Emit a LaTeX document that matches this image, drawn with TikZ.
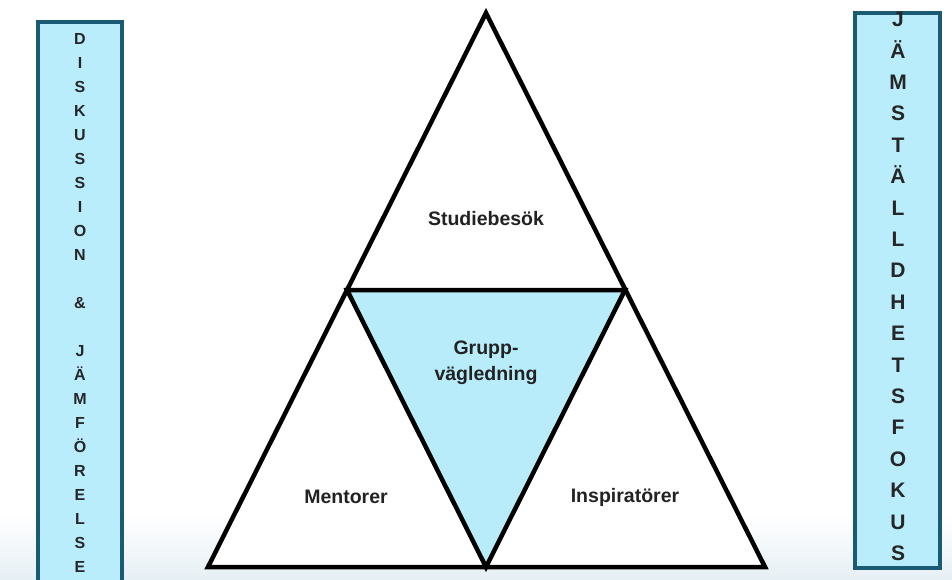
\documentclass[tikz,border=0pt]{standalone}
\usepackage{fontspec}
\setmainfont{Liberation Sans}
\begin{document}
\begin{tikzpicture}[x=1pt,y=-1pt,
  tri/.style={draw=black,line width=4.5pt,line join=miter},
  sidebox/.style={draw=boxedge,fill=boxfill,line width=4pt},
  lbl/.style={font=\bfseries\fontsize{19.5}{24}\selectfont,text=txtgray,align=center,inner sep=0pt},
  lettersL/.style={font=\bfseries\fontsize{16}{24}\selectfont,align=center,inner sep=0pt,text=black!85},
  lettersR/.style={font=\bfseries\fontsize{21}{31.4}\selectfont,align=center,inner sep=0pt,text=black!85}]
\definecolor{boxedge}{HTML}{1B5A73}
\definecolor{boxfill}{HTML}{B9EDFB}
\definecolor{trifill}{HTML}{B8ECFA}
\definecolor{txtgray}{HTML}{222222}
\definecolor{bgbottom}{HTML}{E6EFF4}
\useasboundingbox (0,0) rectangle (952,579);
\fill[white] (0,0) rectangle (952,579);
\shade[top color=white,bottom color=bgbottom] (0,515) rectangle (952,579);
% side boxes
\draw[sidebox] (38,22) rectangle (122,595);
\draw[sidebox] (855,13) rectangle (940,568);
% triangles
\coordinate (A) at (486,13);
\coordinate (B) at (208,567);
\coordinate (C) at (765,567);
\coordinate (L) at (347,290);
\coordinate (R) at (625,290);
\coordinate (M) at (486,567);
\fill[white] (A) -- (B) -- (C) -- cycle;
\fill[trifill] (L) -- (R) -- (M) -- cycle;
\draw[tri] (A) -- (B) -- (C) -- cycle;
\draw[tri] (L) -- (R) -- (M) -- cycle;
% labels
\node[lbl] (stud) at (486,219) {Studiebesök};
\node[lbl] (grupp) at (486,363) {Grupp-\\[2pt]vägledning};
\node[lbl] (ment) at (346,497) {Mentorer};
\node[lbl] (insp) at (625,497) {Inspiratörer};
% vertical texts
\node[lettersL,anchor=north] (ltext) at (80,33) {D\\I\\S\\K\\U\\S\\S\\I\\O\\N\\ \\\&\\ \\J\\Ä\\M\\F\\Ö\\R\\E\\L\\S\\E};
\node[lettersR,anchor=north] (rtext) at (898,12) {J\\Ä\\M\\S\\T\\Ä\\L\\L\\D\\H\\E\\T\\S\\F\\O\\K\\U\\S};
\end{tikzpicture}
\end{document}
